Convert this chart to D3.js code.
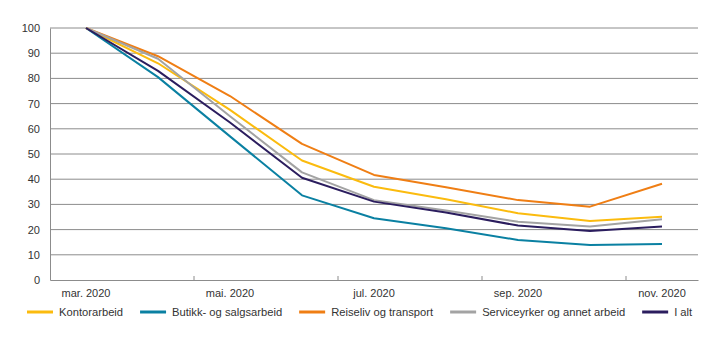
<!DOCTYPE html>
<html>
<head>
<meta charset="utf-8">
<script src="https://cdn.jsdelivr.net/npm/d3@7"></script>
<style>
  body { margin: 0; background: #fff; }
  svg { font-family: "Liberation Sans", Arial, sans-serif; }
  .tick text, .legend text { fill: #333; font-size: 11px; }
  .legend text { font-size: 11.2px; }
</style>
</head>
<body>
<svg width="719" height="341"></svg>
<script>
// months on the x axis (every month has a point, every other one gets a label)
let months = ["mar. 2020", "apr. 2020", "mai. 2020", "jun. 2020", "jul. 2020",
              "aug. 2020", "sep. 2020", "okt. 2020", "nov. 2020"];

let yTicks = [0, 10, 20, 30, 40, 50, 60, 70, 80, 90, 100];

let seriesNames = ["Kontorarbeid", "Butikk- og salgsarbeid", "Reiseliv og transport",
                   "Serviceyrker og annet arbeid", "I alt"];
let seriesColors = ["#fbbb0e", "#0a80a2", "#ef7e14", "#a3a3a3", "#2b1d5e"];

// index values, March 2020 = 100
let kontor   = [100, 86.0, 67.5, 47.4, 37.0, 32.0, 26.5, 23.4, 25.1];
let butikk   = [100, 80.5, 57.0, 33.6, 24.5, 20.5, 15.9, 13.9, 14.3];
let reiseliv = [100, 88.8, 73.0, 54.0, 41.7, 36.8, 31.7, 29.1, 38.2];
let service  = [100, 87.8, 65.0, 42.7, 31.7, 27.6, 23.1, 21.2, 24.1];
let ialt     = [100, 83.0, 62.5, 40.6, 31.1, 26.8, 21.6, 19.4, 21.2];

let seriesValues = [kontor, butikk, reiseliv, service, ialt];

let svg = d3.select("svg"),
    margin = {top: 28, right: 21, bottom: 61, left: 50},
    width = +svg.attr("width") - margin.left - margin.right,
    height = +svg.attr("height") - margin.top - margin.bottom;

let g = svg.append("g")
    .attr("transform", "translate(" + margin.left + "," + margin.top + ")");

let x = d3.scaleBand().domain(months).range([0, width]);
let y = d3.scaleLinear().domain([0, 100]).range([height, 0]);

// gridlines
g.append("g")
    .selectAll("line")
    .data(yTicks.filter(function(d) { return d > 0; }))
    .enter().append("line")
    .attr("x1", 0)
    .attr("x2", width)
    .attr("y1", function(d) { return y(d); })
    .attr("y2", function(d) { return y(d); })
    .attr("stroke", "#8c8c8c")
    .attr("stroke-width", 1);

// y axis
let yAxis = g.append("g")
    .call(d3.axisLeft(y).tickValues(yTicks).tickSize(0).tickPadding(10));
yAxis.select(".domain").attr("stroke", "#8c8c8c");
yAxis.selectAll("text").attr("font-size", 11).attr("font-family", null);

// x axis
let xAxis = g.append("g")
    .attr("transform", "translate(0," + height + ")")
    .call(d3.axisBottom(x)
      .tickValues(months.filter(function(d, i) { return i % 2 === 0; }))
      .tickSize(0).tickPadding(9));
xAxis.select(".domain").attr("stroke", "#8c8c8c");
xAxis.selectAll("text").attr("font-size", 11).attr("font-family", null);

// small tick marks between every second month, pointing up
g.append("g")
    .selectAll("line")
    .data(months.filter(function(d, i) { return i > 0 && i % 2 === 0; }))
    .enter().append("line")
    .attr("x1", function(d) { return x(d); })
    .attr("x2", function(d) { return x(d); })
    .attr("y1", height)
    .attr("y2", height - 4)
    .attr("stroke", "#8c8c8c");

// lines
let line = d3.line()
    .x(function(d, i) { return x(months[i]) + x.bandwidth() / 2; })
    .y(function(d) { return y(d); });

g.append("g")
    .selectAll("path")
    .data(seriesValues)
    .enter().append("path")
    .attr("d", line)
    .attr("fill", "none")
    .attr("stroke", function(d, i) { return seriesColors[i]; })
    .attr("stroke-width", 2)
    .attr("stroke-linejoin", "round");

// legend
let legend = svg.append("g")
    .attr("class", "legend")
    .attr("transform", "translate(27,312)");

let lx = 0;
seriesNames.forEach(function(name, i) {
  let item = legend.append("g").attr("transform", "translate(" + lx + ",0)");
  item.append("line")
      .attr("x1", 0).attr("x2", 26)
      .attr("y1", 0).attr("y2", 0)
      .attr("stroke", seriesColors[i])
      .attr("stroke-width", 3);
  let t = item.append("text")
      .attr("x", 32)
      .attr("y", 4)
      .text(name);
  lx += 32 + t.node().getComputedTextLength() + 17;
});
</script>
</body>
</html>
